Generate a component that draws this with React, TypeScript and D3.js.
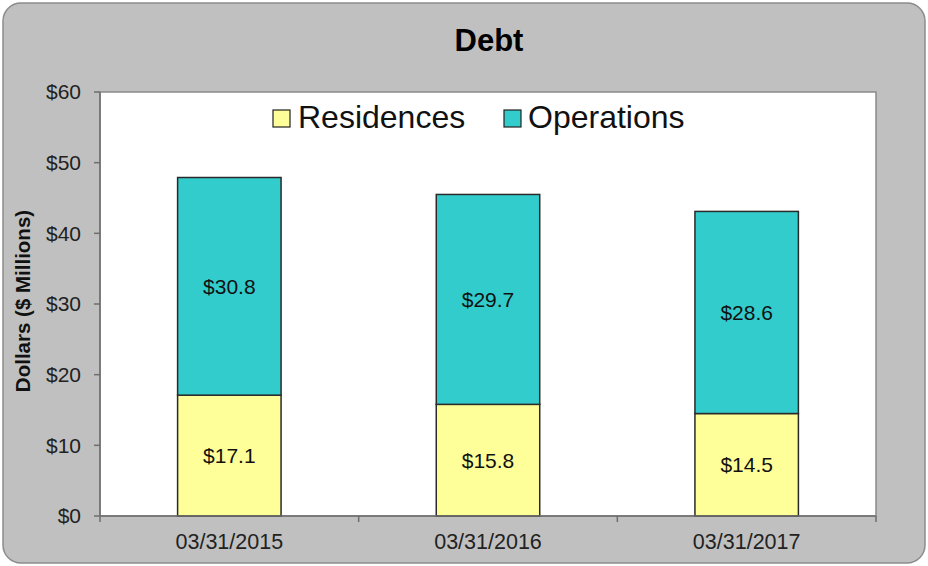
import React from "react";
import * as d3 from "d3";

const categories = ["03/31/2015", "03/31/2016", "03/31/2017"];
const residences = [17.1, 15.8, 14.5];
const operations = [30.8, 29.7, 28.6];
const seriesNames = ["Residences", "Operations"];
const yTicks = [0, 10, 20, 30, 40, 50, 60];

const W = 928;
const H = 566;
const FONT = "'Liberation Sans', Arial, sans-serif";
const COLORS = ["#FFFF99", "#33CCCC"];

export default function App() {
  const left = 100, right = 876, top = 92, bottom = 516;
  const x = d3.scaleBand<string>().domain(categories).range([left, right]).paddingInner(0.6).paddingOuter(0.3);
  const y = d3.scaleLinear().domain([0, 60]).range([bottom, top]);
  const step = x.step();
  const boundaries = d3.range(categories.length + 1).map((i) => left + i * step);

  const stacked = categories.map((c, i) => {
    const r = residences[i];
    const o = operations[i];
    return [
      { key: seriesNames[0], y0: 0, y1: r, v: r, c },
      { key: seriesNames[1], y0: r, y1: r + o, v: o, c },
    ];
  });

  const legendItems = [
    { name: seriesNames[0], color: COLORS[0], sx: 273, tx: 298 },
    { name: seriesNames[1], color: COLORS[1], sx: 504, tx: 528 },
  ];

  return (
    <div style={{ position: "absolute", left: 0, top: 0 }}>
      <svg width={W} height={H} style={{ display: "block" }}>
        <rect x={0} y={0} width={W} height={H} fill="#ffffff" />
        <rect x={3} y={3} width={922} height={560} rx={18} ry={18} fill="#C0C0C0" stroke="#8c8c8c" strokeWidth={1.5} />
        <text x={489} y={51} textAnchor="middle" fontFamily={FONT} fontWeight="bold" fontSize={31} fill="#000">Debt</text>

        {/* plot area */}
        <rect x={left} y={top} width={right - left} height={bottom - top} fill="#ffffff" stroke="#8a8a8a" strokeWidth={1.5} />

        {/* bars */}
        {stacked.map((segs, i) =>
          segs.map((s, j) => (
            <g key={`${i}-${j}`}>
              <rect
                x={x(s.c)!}
                y={y(s.y1)}
                width={x.bandwidth()}
                height={y(s.y0) - y(s.y1)}
                fill={COLORS[j]}
                stroke="#2a2a2a"
                strokeWidth={1.5}
              />
              <text
                x={x(s.c)! + x.bandwidth() / 2}
                y={(y(s.y0) + y(s.y1)) / 2}
                dy="0.35em"
                textAnchor="middle"
                fontFamily={FONT}
                fontSize={21}
                fill="#111"
              >
                {`$${s.v.toFixed(1)}`}
              </text>
            </g>
          ))
        )}

        {/* axes */}
        <line x1={left} x2={left} y1={top} y2={bottom} stroke="#6e6e6e" strokeWidth={1.5} />
        <line x1={left} x2={right} y1={bottom} y2={bottom} stroke="#6e6e6e" strokeWidth={1.5} />
        {yTicks.map((t) => (
          <g key={t}>
            <line x1={left - 6} x2={left} y1={y(t)} y2={y(t)} stroke="#6e6e6e" strokeWidth={1.5} />
            <text x={left - 19} y={y(t)} dy="0.35em" textAnchor="end" fontFamily={FONT} fontSize={21} fill="#222">
              {`$${t}`}
            </text>
          </g>
        ))}
        {boundaries.map((b, i) => (
          <line key={i} x1={b} x2={b} y1={bottom} y2={bottom + 6} stroke="#6e6e6e" strokeWidth={1.5} />
        ))}
        {categories.map((c) => (
          <text key={c} x={x(c)! + x.bandwidth() / 2} y={549} textAnchor="middle" fontFamily={FONT} fontSize={21.5} fill="#222">
            {c}
          </text>
        ))}

        <text
          transform={`translate(30, 301) rotate(-90)`}
          textAnchor="middle"
          fontFamily={FONT}
          fontWeight="bold"
          fontSize={20.5}
          fill="#111"
        >
          Dollars ($ Millions)
        </text>

        {/* legend */}
        {legendItems.map((l) => (
          <g key={l.name}>
            <rect x={l.sx} y={110} width={17} height={17} fill={l.color} stroke="#222" strokeWidth={1.2} />
            <text x={l.tx} y={128} fontFamily={FONT} fontSize={32} fill="#111">{l.name}</text>
          </g>
        ))}
      </svg>
    </div>
  );
}
